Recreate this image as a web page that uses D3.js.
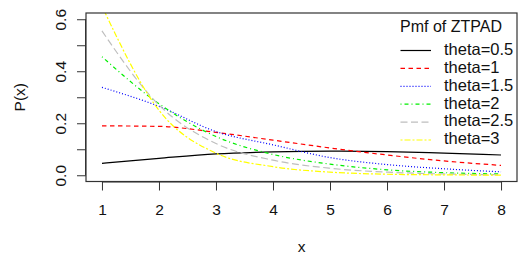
<!DOCTYPE html>
<html><head><meta charset="utf-8">
<script src="https://cdn.jsdelivr.net/npm/d3@7"></script>
<style>html,body{margin:0;padding:0;background:#fff;}svg{display:block;}text{font-family:"Liberation Sans",Arial,sans-serif;fill:#111;}</style>
</head><body>
<svg id="chart" width="530" height="260"></svg>
<script>
const xValues = [1, 2, 3, 4, 5, 6, 7, 8];
const theta05 = [0.046, 0.065, 0.082, 0.090, 0.093, 0.091, 0.085, 0.078];
const theta1  = [0.190, 0.188, 0.165, 0.135, 0.105, 0.078, 0.055, 0.038];
const theta15 = [0.338, 0.265, 0.168, 0.117, 0.068, 0.041, 0.025, 0.013];
const theta2  = [0.456, 0.275, 0.149, 0.080, 0.043, 0.021, 0.010, 0.005];
const theta25 = [0.555, 0.270, 0.122, 0.058, 0.027, 0.012, 0.005, 0.002];
const theta3  = [0.650, 0.250, 0.085, 0.033, 0.012, 0.004, 0.0015, 0.0005];
const seriesNames = ["theta=0.5", "theta=1", "theta=1.5", "theta=2", "theta=2.5", "theta=3"];
const seriesColors = ["#000000", "#FF0000", "#0000FF", "#00EE00", "#BEBEBE", "#FFFF00"];
const seriesDash = [null, "4.5,3.5", "1,2", "1,3,4,3", "7,3.5", "2,2,6,2"];
const xTicks = [1, 2, 3, 4, 5, 6, 7, 8];
const yTicks = [0, 0.1, 0.2, 0.3, 0.4, 0.5, 0.6];
const yTickLabels = ["0.0", "", "0.2", "", "0.4", "", "0.6"];
const legendTitle = "Pmf of ZTPAD";
const xTitle = "x", yTitle = "P(x)";

const allSeries = [theta05, theta1, theta15, theta2, theta25, theta3];
const svg = d3.select("#chart");
const L = 86, R = 517, T = 13, B = 181.5;
const x = d3.scaleLinear().domain([0.72, 8.28]).range([L, R]);
const y = d3.scaleLinear().domain([-0.024, 0.624]).range([B, T]);

svg.append("defs").append("clipPath").attr("id", "clip")
  .append("rect").attr("x", L).attr("y", T).attr("width", R - L).attr("height", B - T);

const line = d3.line().x((d, i) => x(xValues[i])).y(d => y(d)).curve(d3.curveMonotoneX);
const g = svg.append("g").attr("clip-path", "url(#clip)");
allSeries.forEach((s, k) => {
  g.append("path").attr("d", line(s)).attr("fill", "none")
    .attr("stroke", seriesColors[k]).attr("stroke-width", 1.2)
    .attr("stroke-dasharray", seriesDash[k]);
});

// box
svg.append("rect").attr("x", L).attr("y", T).attr("width", R - L).attr("height", B - T)
  .attr("fill", "none").attr("stroke", "#333").attr("stroke-width", 1.2);

// x axis
const xAxis = d3.axisBottom(x).tickValues(xTicks).tickSize(9).tickPadding(13).tickFormat(d3.format("d"));
const xg = svg.append("g").attr("transform", `translate(0,${B})`).call(xAxis);
xg.select(".domain").attr("d", `M${x(1)},0.5H${x(8)}`).attr("stroke", "#333");
xg.selectAll(".tick line").attr("stroke", "#333");
xg.selectAll("text").attr("font-size", 15.5).attr("fill", "#111").attr("font-family", "Liberation Sans, Arial, sans-serif");

// y axis
const yAxis = d3.axisLeft(y).tickValues(yTicks).tickSize(9).tickFormat((d, i) => yTickLabels[i]);
const yg = svg.append("g").attr("transform", `translate(${L},0)`).call(yAxis);
yg.select(".domain").attr("d", `M-0.5,${y(0)}V${y(0.6)}`).attr("stroke", "#333");
yg.selectAll(".tick line").attr("stroke", "#333");
yg.selectAll("text").attr("font-size", 15.5).attr("fill", "#111")
  .attr("font-family", "Liberation Sans, Arial, sans-serif")
  .attr("x", null).attr("dy", null)
  .attr("text-anchor", "middle")
  .attr("transform", "translate(-24,0) rotate(-90)")
  .attr("dominant-baseline", "middle");

// titles
svg.append("text").attr("x", (x(1) + x(8)) / 2).attr("y", 252).attr("text-anchor", "middle")
  .attr("font-size", 15.5).text(xTitle);
svg.append("text").attr("transform", `translate(21,${(y(0) + y(0.6)) / 2}) rotate(-90)`)
  .attr("text-anchor", "middle").attr("dominant-baseline", "middle").attr("font-size", 15.5).text(yTitle);

// legend
const lg = svg.append("g");
lg.append("text").attr("x", 400).attr("y", 31.5).attr("font-size", 16).text(legendTitle);
seriesNames.forEach((n, k) => {
  const yy = 50.5 + k * 17.9;
  lg.append("line").attr("x1", 400.5).attr("x2", 431).attr("y1", yy).attr("y2", yy)
    .attr("stroke", seriesColors[k]).attr("stroke-width", 1.2).attr("stroke-dasharray", seriesDash[k]);
  lg.append("text").attr("x", 444).attr("y", yy).attr("dominant-baseline", "middle")
    .attr("font-size", 16.5).text(n);
});
</script>
</body></html>
